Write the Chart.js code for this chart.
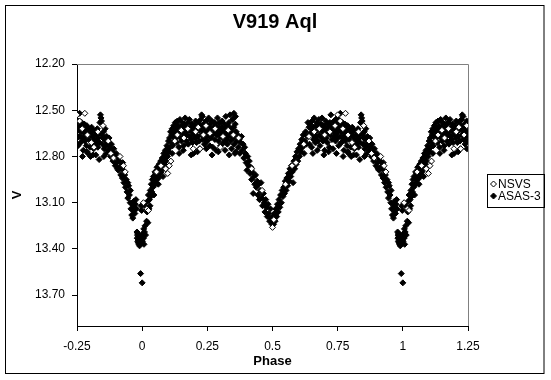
<!DOCTYPE html>
<html>
<head>
<meta charset="utf-8">
<script src="https://cdn.jsdelivr.net/npm/chart.js@4"></script>
<style>
  html, body { margin: 0; padding: 0; background: #fff; }
  canvas { display: block; }
</style>
</head>
<body>
<canvas id="cvs_v919" width="551" height="380"></canvas>
<script>
// V919 Aql - curva de luz em fase (NSVS x ASAS-3)

const titulo = "V919 Aql";
const tituloX = "Phase";
const tituloY = "V";

const xTicks = [-0.25, 0, 0.25, 0.5, 0.75, 1, 1.25];
const xLabels = ["-0.25", "0", "0.25", "0.5", "0.75", "1", "1.25"];
const yTicks = [12.2, 12.5, 12.8, 13.1, 13.4, 13.7];
const yLabels = ["12.20", "12.50", "12.80", "13.10", "13.40", "13.70"];

const asas = [
  // minimo primario (saida)
  [0.000, 13.62], [0.001, 13.35], [0.002, 13.31], [0.003, 13.30], [0.005, 13.33], [0.006, 13.27],
  [0.007, 13.37], [0.008, 13.11], [0.009, 13.29], [0.011, 13.25], [0.013, 13.31], [0.015, 13.13],
  [0.017, 13.22], [0.019, 13.16], [0.021, 13.09], [0.022, 13.23], [0.024, 13.05], [0.026, 13.14],
  [0.028, 13.08], [0.030, 13.12],
  // subida
  [0.031, 13.02], [0.033, 13.06], [0.035, 12.98], [0.037, 13.03], [0.039, 12.95], [0.041, 13.00],
  [0.043, 12.93], [0.045, 12.99], [0.047, 12.94], [0.049, 12.90], [0.051, 12.97], [0.053, 12.91],
  [0.055, 12.95], [0.057, 12.87], [0.059, 12.93], [0.061, 12.89], [0.063, 12.94], [0.065, 12.85],
  [0.067, 12.91], [0.069, 12.88], [0.071, 12.83], [0.073, 12.90], [0.075, 12.86], [0.077, 12.81],
  [0.079, 12.88], [0.081, 12.83], [0.083, 12.78], [0.085, 12.85], [0.087, 12.80], [0.089, 12.76],
  [0.091, 12.83], [0.093, 12.78], [0.095, 12.73], [0.097, 12.80], [0.099, 12.75], [0.101, 12.70],
  [0.103, 12.77], [0.105, 12.68], [0.107, 12.74], [0.109, 12.64], [0.111, 12.71], [0.113, 12.66],
  [0.115, 12.62], [0.117, 12.73], [0.119, 12.67], [0.121, 12.60], [0.123, 12.70], [0.125, 12.64],
  [0.127, 12.58], [0.129, 12.68],
  [0.045, 13.05], [0.062, 12.98], [0.080, 12.93], [0.095, 12.87], [0.115, 12.78],
  // maximo 0.25
  [0.131, 12.62], [0.133, 12.71], [0.135, 12.57], [0.137, 12.66], [0.139, 12.60], [0.141, 12.74],
  [0.143, 12.63], [0.145, 12.56], [0.147, 12.68], [0.149, 12.61], [0.151, 12.70], [0.153, 12.58],
  [0.155, 12.65], [0.157, 12.62], [0.159, 12.73], [0.161, 12.59], [0.163, 12.67], [0.165, 12.55],
  [0.167, 12.64], [0.169, 12.70], [0.171, 12.61], [0.173, 12.66], [0.175, 12.58], [0.177, 12.72],
  [0.179, 12.63], [0.181, 12.56], [0.183, 12.67], [0.185, 12.61], [0.187, 12.69], [0.189, 12.64],
  [0.191, 12.59], [0.193, 12.71], [0.195, 12.62], [0.197, 12.78], [0.199, 12.66], [0.201, 12.60],
  [0.203, 12.68], [0.205, 12.57], [0.207, 12.64], [0.209, 12.71], [0.211, 12.61], [0.213, 12.67],
  [0.215, 12.58], [0.217, 12.63], [0.219, 12.70], [0.221, 12.75], [0.223, 12.60], [0.225, 12.56],
  [0.227, 12.66], [0.229, 12.62], [0.231, 12.54], [0.233, 12.69], [0.235, 12.64], [0.237, 12.59],
  [0.239, 12.72], [0.241, 12.61], [0.243, 12.67], [0.245, 12.57], [0.247, 12.64], [0.249, 12.70],
  [0.251, 12.60], [0.253, 12.66], [0.255, 12.55], [0.257, 12.63], [0.259, 12.73], [0.261, 12.59],
  [0.263, 12.68], [0.265, 12.62], [0.267, 12.57], [0.269, 12.66], [0.271, 12.74], [0.273, 12.61],
  [0.275, 12.65], [0.277, 12.58], [0.279, 12.69], [0.281, 12.63], [0.283, 12.76], [0.285, 12.60],
  [0.287, 12.66], [0.289, 12.55], [0.291, 12.64], [0.293, 12.70], [0.295, 12.62], [0.297, 12.58],
  [0.299, 12.67], [0.301, 12.73], [0.303, 12.61], [0.305, 12.65], [0.307, 12.57], [0.309, 12.68],
  [0.311, 12.63], [0.313, 12.71], [0.315, 12.59], [0.317, 12.66], [0.319, 12.62], [0.321, 12.54],
  [0.323, 12.69], [0.325, 12.64], [0.327, 12.72], [0.329, 12.60], [0.331, 12.67], [0.333, 12.58],
  [0.335, 12.65], [0.337, 12.53], [0.339, 12.70], [0.341, 12.62], [0.343, 12.75], [0.345, 12.64],
  [0.347, 12.56], [0.349, 12.68], [0.351, 12.61], [0.353, 12.72], [0.355, 12.66], [0.357, 12.59],
  [0.359, 12.77], [0.361, 12.64], [0.363, 12.70],
  [0.142, 12.78], [0.158, 12.76], [0.188, 12.79], [0.212, 12.77], [0.228, 12.53], [0.246, 12.75],
  [0.268, 12.79], [0.292, 12.77], [0.318, 12.76], [0.334, 12.79], [0.352, 12.52], [0.356, 12.78],
  [0.358, 12.54],
  // descida para o secundario
  [0.366, 12.66], [0.369, 12.74], [0.372, 12.69], [0.375, 12.78], [0.378, 12.71], [0.381, 12.67],
  [0.384, 12.76], [0.387, 12.72], [0.390, 12.81], [0.393, 12.74], [0.396, 12.78], [0.399, 12.84],
  [0.402, 12.89], [0.405, 12.80], [0.408, 12.86], [0.411, 12.83], [0.414, 12.91], [0.417, 12.87],
  [0.420, 12.95], [0.423, 12.90], [0.426, 13.04], [0.429, 12.93], [0.432, 12.98], [0.435, 12.92],
  [0.438, 13.00], [0.441, 12.96], [0.444, 13.05], [0.447, 12.98], [0.450, 13.08], [0.453, 13.02],
  [0.456, 12.97], [0.459, 13.07], [0.462, 13.12], [0.465, 13.04], [0.468, 13.10], [0.471, 13.16],
  [0.474, 13.08], [0.477, 13.13], [0.480, 13.19], [0.483, 13.11], [0.486, 13.17], [0.489, 13.22],
  [0.492, 13.14], [0.495, 13.20], [0.498, 13.24],
  // subida depois do secundario
  [0.501, 13.19], [0.504, 13.24], [0.507, 13.17], [0.510, 13.22], [0.513, 13.14], [0.516, 13.19],
  [0.519, 13.11], [0.522, 13.16], [0.525, 13.08], [0.528, 13.13], [0.531, 13.05], [0.534, 13.10],
  [0.537, 13.02], [0.540, 13.06], [0.543, 13.00], [0.546, 13.04], [0.549, 12.96], [0.552, 13.02],
  [0.555, 12.94], [0.558, 12.99], [0.561, 12.91], [0.564, 12.96], [0.567, 12.88], [0.570, 12.93],
  [0.573, 12.86], [0.576, 12.90], [0.579, 12.97], [0.582, 12.83], [0.585, 12.88], [0.588, 12.80],
  [0.591, 12.85], [0.594, 12.77], [0.597, 12.83], [0.600, 12.75], [0.603, 12.80], [0.606, 12.72],
  [0.609, 12.77], [0.612, 12.69], [0.615, 12.74], [0.618, 12.66], [0.621, 12.78], [0.624, 12.70],
  [0.627, 12.64], [0.630, 12.72], [0.633, 12.67],
  // maximo 0.75
  [0.636, 12.58], [0.638, 12.67], [0.640, 12.61], [0.642, 12.72], [0.644, 12.59], [0.646, 12.65],
  [0.648, 12.62], [0.650, 12.74], [0.652, 12.57], [0.654, 12.66], [0.656, 12.61], [0.658, 12.69],
  [0.660, 12.55], [0.662, 12.64], [0.664, 12.71], [0.666, 12.60], [0.668, 12.67], [0.670, 12.58],
  [0.672, 12.63], [0.674, 12.70], [0.676, 12.61], [0.678, 12.56], [0.680, 12.66], [0.682, 12.73],
  [0.684, 12.62], [0.686, 12.59], [0.688, 12.68], [0.690, 12.55], [0.692, 12.64], [0.694, 12.70],
  [0.696, 12.60], [0.698, 12.66], [0.700, 12.76], [0.702, 12.62], [0.704, 12.57], [0.706, 12.68],
  [0.708, 12.63], [0.710, 12.71], [0.712, 12.59], [0.714, 12.65], [0.716, 12.61], [0.718, 12.74],
  [0.720, 12.58], [0.722, 12.66], [0.724, 12.53], [0.726, 12.63], [0.728, 12.69], [0.730, 12.60],
  [0.732, 12.75], [0.734, 12.64], [0.736, 12.57], [0.738, 12.67], [0.740, 12.62], [0.742, 12.70],
  [0.744, 12.59], [0.746, 12.65], [0.748, 12.55], [0.750, 12.68], [0.752, 12.61], [0.754, 12.73],
  [0.756, 12.63], [0.758, 12.57], [0.760, 12.67], [0.762, 12.60], [0.764, 12.71], [0.766, 12.64],
  [0.768, 12.58], [0.770, 12.68], [0.772, 12.62], [0.774, 12.76], [0.776, 12.65], [0.778, 12.59],
  [0.780, 12.70], [0.782, 12.63], [0.784, 12.67], [0.786, 12.73], [0.788, 12.60], [0.790, 12.66],
  [0.792, 12.78], [0.794, 12.62], [0.796, 12.69], [0.798, 12.64], [0.800, 12.74], [0.802, 12.80],
  [0.804, 12.66], [0.806, 12.61], [0.808, 12.71], [0.810, 12.67], [0.812, 12.63], [0.814, 12.75],
  [0.816, 12.69], [0.818, 12.64], [0.820, 12.72], [0.822, 12.79], [0.824, 12.66], [0.826, 12.70],
  [0.828, 12.62], [0.830, 12.74], [0.832, 12.68], [0.834, 12.65], [0.836, 12.71], [0.838, 12.58],
  [0.840, 12.53], [0.842, 12.55], [0.844, 12.57], [0.846, 12.66], [0.848, 12.72], [0.850, 12.68],
  [0.852, 12.64], [0.854, 12.75], [0.856, 12.69], [0.858, 12.62], [0.860, 12.73], [0.862, 12.78],
  [0.864, 12.67],
  [0.655, 12.78], [0.672, 12.76], [0.697, 12.79], [0.715, 12.77], [0.745, 12.78], [0.760, 12.52],
  [0.771, 12.80], [0.789, 12.77], [0.811, 12.79], [0.835, 12.82], [0.853, 12.80],
  // descida para o primario
  [0.867, 12.71], [0.870, 12.76], [0.873, 12.68], [0.876, 12.74], [0.879, 12.80], [0.882, 12.72],
  [0.885, 12.77], [0.888, 12.83], [0.891, 12.75], [0.894, 12.80], [0.897, 12.86], [0.900, 12.78],
  [0.903, 12.84], [0.906, 12.81], [0.909, 12.89], [0.912, 12.83], [0.915, 12.87], [0.918, 12.92],
  [0.921, 12.86], [0.924, 12.94], [0.927, 12.89], [0.930, 12.97], [0.933, 12.92], [0.936, 13.00],
  [0.939, 12.95], [0.942, 13.03], [0.945, 13.07], [0.948, 12.99], [0.951, 13.05], [0.954, 13.10],
  [0.957, 13.14], [0.960, 13.18], [0.962, 13.11], [0.964, 13.20], [0.966, 13.15], [0.968, 13.09],
  [0.970, 13.13], [0.972, 13.17], [0.974, 13.11], [0.976, 13.08], [0.978, 13.14],
  [0.905, 12.88], [0.925, 12.84], [0.945, 12.97], [0.955, 13.02],
  // fundo do primario
  [0.980, 13.29], [0.981, 13.33], [0.982, 13.31], [0.983, 13.35], [0.984, 13.30], [0.985, 13.36],
  [0.986, 13.32], [0.988, 13.37], [0.990, 13.38], [0.991, 13.35], [0.992, 13.37], [0.994, 13.56],
  [0.995, 13.34], [0.996, 13.12], [0.998, 13.15]
];

const nsvs = [
  [0.005, 13.10], [0.018, 13.14], [0.024, 13.15], [0.055, 12.90], [0.072, 12.86], [0.090, 12.88],
  [0.098, 12.91], [0.104, 12.86], [0.110, 12.83], [0.125, 12.70], [0.135, 12.66], [0.150, 12.63],
  [0.160, 12.68], [0.175, 12.62], [0.196, 12.75], [0.205, 12.64], [0.215, 12.61], [0.222, 12.75],
  [0.235, 12.66], [0.245, 12.60], [0.260, 12.65], [0.280, 12.62], [0.300, 12.74], [0.310, 12.67],
  [0.330, 12.63], [0.350, 12.66], [0.370, 12.68], [0.420, 12.88], [0.460, 13.02], [0.500, 13.26],
  [0.505, 13.21], [0.550, 12.98], [0.575, 12.86], [0.590, 12.84], [0.620, 12.72], [0.640, 12.67],
  [0.660, 12.64], [0.680, 12.62], [0.700, 12.66], [0.720, 12.64], [0.740, 12.60], [0.750, 12.53],
  [0.760, 12.57], [0.770, 12.62], [0.780, 12.52], [0.790, 12.66], [0.805, 12.71], [0.815, 12.74],
  [0.830, 12.64], [0.850, 12.60], [0.870, 12.70], [0.880, 12.78], [0.890, 12.81], [0.915, 12.80],
  [0.928, 12.86], [0.935, 12.90]
];

// a planilha repete os pontos: fase-1 para >= 0.75 e fase+1 para <= 0.25
function dobrarFase(lista) {
  var saida = [];
  for (let i = 0; i < lista.length; i++) {
    var p = lista[i][0];
    var v = lista[i][1];
    saida.push({ x: p, y: v });
    if (p >= 0.75) saida.push({ x: p - 1, y: v });
    if (p <= 0.25) saida.push({ x: p + 1, y: v });
  }
  return saida;
}

const fonte = "'Liberation Sans', Arial, sans-serif";

// fundo, titulo, moldura externa, bordas cinza da area e legenda com caixa
const molduraPlugin = {
  id: "moldura",
  beforeDraw(chart) {
    const ctx = chart.ctx;
    ctx.save();
    ctx.fillStyle = "#fff";
    ctx.fillRect(0, 0, chart.width, chart.height);
    ctx.restore();
  },
  afterDraw(chart) {
    const ctx = chart.ctx;
    const a = chart.chartArea;
    ctx.save();
    ctx.strokeStyle = "#808080";
    ctx.lineWidth = 1;
    ctx.beginPath();
    ctx.moveTo(a.left, a.top + 0.5);
    ctx.lineTo(a.right + 0.5, a.top + 0.5);
    ctx.lineTo(a.right + 0.5, a.bottom);
    ctx.stroke();

    ctx.strokeStyle = "#000";
    ctx.strokeRect(5.5, 5.5, 538.5, 368);

    ctx.fillStyle = "#000";
    ctx.textAlign = "center";
    ctx.textBaseline = "middle";
    ctx.font = "bold 20px " + fonte;
    ctx.fillText(titulo, 275, 22);

    // legenda
    ctx.strokeRect(487.5, 174.5, 57, 33);
    ctx.font = "12px " + fonte;
    ctx.textAlign = "left";
    chart.data.datasets.forEach(function (ds, i) {
      var ly = 184 + i * 12;
      ctx.beginPath();
      ctx.moveTo(493.5, ly - 3);
      ctx.lineTo(496.5, ly);
      ctx.lineTo(493.5, ly + 3);
      ctx.lineTo(490.5, ly);
      ctx.closePath();
      ctx.fillStyle = ds.backgroundColor;
      ctx.fill();
      ctx.strokeStyle = "#000";
      ctx.stroke();
      ctx.fillStyle = "#000";
      ctx.fillText(ds.label, 498, ly + 0.5);
    });
    ctx.restore();
  }
};

new Chart(document.getElementById("cvs_v919"), {
  type: "scatter",
  data: {
    datasets: [
      {
        label: "NSVS",
        data: dobrarFase(nsvs),
        pointStyle: "rectRot",
        pointRadius: 3,
        borderWidth: 1,
        borderColor: "#000",
        backgroundColor: "#fff",
      },
      {
        label: "ASAS-3",
        data: dobrarFase(asas),
        pointStyle: "rectRot",
        pointRadius: 3,
        borderWidth: 1,
        borderColor: "#000",
        backgroundColor: "#000",
      },
    ],
  },
  options: {
    responsive: false,
    animation: false,
    devicePixelRatio: 1,
    layout: { padding: { left: 0, top: 64, right: 83, bottom: 0 } },
    plugins: {
      legend: { display: false },
      tooltip: { enabled: false },
      title: { display: false },
    },
    scales: {
      x: {
        type: "linear",
        min: -0.25,
        max: 1.25,
        afterBuildTicks: (scale) => { scale.ticks = xTicks.map((v) => ({ value: v })); },
        afterFit: (scale) => { scale.height = 54; },
        grid: { drawOnChartArea: false, drawTicks: true, tickLength: 5, color: "#000" },
        border: { display: true, color: "#000" },
        ticks: {
          color: "#000",
          padding: 8,
          maxRotation: 0,
          font: { family: fonte, size: 12 },
          callback: (v, i) => xLabels[i],
        },
        title: {
          display: true,
          text: tituloX,
          color: "#000",
          font: { family: fonte, size: 13, weight: "bold" },
          padding: { top: 0, bottom: 11 },
        },
      },
      y: {
        type: "linear",
        reverse: true,
        min: 12.2,
        max: 13.9,
        afterBuildTicks: (scale) => { scale.ticks = yTicks.map((v) => ({ value: v })); },
        afterFit: (scale) => { scale.width = 77; },
        grid: { drawOnChartArea: false, drawTicks: true, tickLength: 5, color: "#000" },
        border: { display: true, color: "#000" },
        ticks: {
          color: "#000",
          padding: 7,
          font: { family: fonte, size: 12 },
          callback: (v, i) => yLabels[i],
        },
        title: {
          display: true,
          text: tituloY,
          color: "#000",
          font: { family: fonte, size: 13, weight: "bold" },
          padding: { top: 10, bottom: 0 },
        },
      },
    },
  },
  plugins: [molduraPlugin],
});
</script>
</body>
</html>
